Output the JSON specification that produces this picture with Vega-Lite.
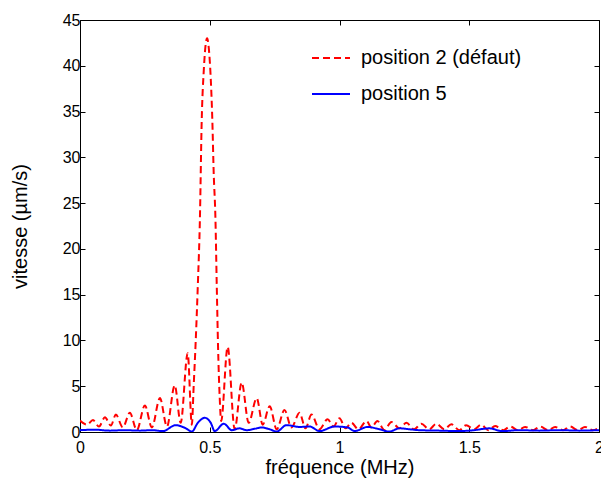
{
  "$schema": "https://vega.github.io/schema/vega-lite/v6.json",
  "width": 519,
  "height": 412,
  "autosize": {"type": "none"},
  "padding": {"left": 80, "top": 20, "right": 2, "bottom": 50},
  "background": "white",
  "config": {
    "font": "Liberation Sans",
    "view": {"stroke": "black", "strokeWidth": 1},
    "axis": {
      "grid": false,
      "domainColor": "black",
      "tickColor": "black",
      "labelColor": "black",
      "titleColor": "black",
      "labelFontSize": 16,
      "titleFontSize": 20,
      "titleFontWeight": "normal",
      "tickSize": -5,
      "labelFont": "Liberation Sans",
      "titleFont": "Liberation Sans"
    },
    "legend": {
      "orient": "none",
      "legendX": 231,
      "legendY": 18,
      "labelFontSize": 20,
      "labelFont": "Liberation Sans",
      "labelColor": "black",
      "labelLimit": 0,
      "symbolType": "stroke",
      "symbolSize": 1444,
      "symbolStrokeWidth": 2,
      "labelOffset": 10,
      "rowPadding": 6,
      "padding": 0
    }
  },
  "data": {
    "values": [
      {"f": 0.000, "v": 1.25, "s": "position 2 (défaut)"},
      {"f": 0.027, "v": 0.8, "s": "position 2 (défaut)"},
      {"f": 0.050, "v": 1.3, "s": "position 2 (défaut)"},
      {"f": 0.073, "v": 0.6, "s": "position 2 (défaut)"},
      {"f": 0.096, "v": 1.6, "s": "position 2 (défaut)"},
      {"f": 0.119, "v": 0.7, "s": "position 2 (défaut)"},
      {"f": 0.138, "v": 1.9, "s": "position 2 (défaut)"},
      {"f": 0.165, "v": 0.5, "s": "position 2 (défaut)"},
      {"f": 0.192, "v": 2.1, "s": "position 2 (défaut)"},
      {"f": 0.219, "v": 0.2, "s": "position 2 (défaut)"},
      {"f": 0.250, "v": 2.9, "s": "position 2 (défaut)"},
      {"f": 0.277, "v": 0.5, "s": "position 2 (défaut)"},
      {"f": 0.308, "v": 3.7, "s": "position 2 (défaut)"},
      {"f": 0.335, "v": 0.6, "s": "position 2 (défaut)"},
      {"f": 0.365, "v": 5.1, "s": "position 2 (défaut)"},
      {"f": 0.388, "v": 1.0, "s": "position 2 (défaut)"},
      {"f": 0.415, "v": 8.6, "s": "position 2 (défaut)"},
      {"f": 0.431, "v": 0.8, "s": "position 2 (défaut)"},
      {"f": 0.438, "v": 5, "s": "position 2 (défaut)"},
      {"f": 0.446, "v": 10, "s": "position 2 (défaut)"},
      {"f": 0.454, "v": 16, "s": "position 2 (défaut)"},
      {"f": 0.462, "v": 23.2, "s": "position 2 (défaut)"},
      {"f": 0.469, "v": 34, "s": "position 2 (défaut)"},
      {"f": 0.477, "v": 39.5, "s": "position 2 (défaut)"},
      {"f": 0.485, "v": 42.5, "s": "position 2 (défaut)"},
      {"f": 0.490, "v": 43, "s": "position 2 (défaut)"},
      {"f": 0.496, "v": 42, "s": "position 2 (défaut)"},
      {"f": 0.504, "v": 38.5, "s": "position 2 (défaut)"},
      {"f": 0.510, "v": 34, "s": "position 2 (défaut)"},
      {"f": 0.515, "v": 28.5, "s": "position 2 (défaut)"},
      {"f": 0.522, "v": 23.2, "s": "position 2 (défaut)"},
      {"f": 0.527, "v": 16, "s": "position 2 (défaut)"},
      {"f": 0.532, "v": 9.3, "s": "position 2 (défaut)"},
      {"f": 0.538, "v": 4, "s": "position 2 (défaut)"},
      {"f": 0.544, "v": 1.2, "s": "position 2 (défaut)"},
      {"f": 0.569, "v": 9.3, "s": "position 2 (défaut)"},
      {"f": 0.596, "v": 0.3, "s": "position 2 (défaut)"},
      {"f": 0.623, "v": 5.4, "s": "position 2 (défaut)"},
      {"f": 0.650, "v": 1.0, "s": "position 2 (défaut)"},
      {"f": 0.681, "v": 3.7, "s": "position 2 (défaut)"},
      {"f": 0.704, "v": 0.8, "s": "position 2 (défaut)"},
      {"f": 0.731, "v": 2.8, "s": "position 2 (défaut)"},
      {"f": 0.758, "v": 0.3, "s": "position 2 (défaut)"},
      {"f": 0.788, "v": 2.4, "s": "position 2 (défaut)"},
      {"f": 0.815, "v": 0.5, "s": "position 2 (défaut)"},
      {"f": 0.846, "v": 2.1, "s": "position 2 (défaut)"},
      {"f": 0.869, "v": 0.4, "s": "position 2 (défaut)"},
      {"f": 0.892, "v": 1.9, "s": "position 2 (défaut)"},
      {"f": 0.923, "v": 0.3, "s": "position 2 (défaut)"},
      {"f": 0.954, "v": 1.4, "s": "position 2 (défaut)"},
      {"f": 0.977, "v": 0.6, "s": "position 2 (défaut)"},
      {"f": 1.000, "v": 1.5, "s": "position 2 (défaut)"},
      {"f": 1.023, "v": 0.4, "s": "position 2 (défaut)"},
      {"f": 1.046, "v": 1.0, "s": "position 2 (défaut)"},
      {"f": 1.073, "v": 0.3, "s": "position 2 (défaut)"},
      {"f": 1.104, "v": 1.2, "s": "position 2 (défaut)"},
      {"f": 1.123, "v": 0.5, "s": "position 2 (défaut)"},
      {"f": 1.146, "v": 1.2, "s": "position 2 (défaut)"},
      {"f": 1.173, "v": 0.2, "s": "position 2 (défaut)"},
      {"f": 1.200, "v": 1.1, "s": "position 2 (défaut)"},
      {"f": 1.231, "v": 0.4, "s": "position 2 (défaut)"},
      {"f": 1.258, "v": 1.0, "s": "position 2 (défaut)"},
      {"f": 1.288, "v": 0.3, "s": "position 2 (défaut)"},
      {"f": 1.315, "v": 0.9, "s": "position 2 (défaut)"},
      {"f": 1.346, "v": 0.3, "s": "position 2 (défaut)"},
      {"f": 1.373, "v": 0.9, "s": "position 2 (défaut)"},
      {"f": 1.404, "v": 0.3, "s": "position 2 (défaut)"},
      {"f": 1.431, "v": 0.85, "s": "position 2 (défaut)"},
      {"f": 1.462, "v": 0.2, "s": "position 2 (défaut)"},
      {"f": 1.488, "v": 0.75, "s": "position 2 (défaut)"},
      {"f": 1.519, "v": 0.3, "s": "position 2 (défaut)"},
      {"f": 1.546, "v": 0.8, "s": "position 2 (défaut)"},
      {"f": 1.573, "v": 0.2, "s": "position 2 (défaut)"},
      {"f": 1.600, "v": 0.65, "s": "position 2 (défaut)"},
      {"f": 1.631, "v": 0.2, "s": "position 2 (défaut)"},
      {"f": 1.658, "v": 0.6, "s": "position 2 (défaut)"},
      {"f": 1.688, "v": 0.2, "s": "position 2 (défaut)"},
      {"f": 1.715, "v": 0.55, "s": "position 2 (défaut)"},
      {"f": 1.746, "v": 0.2, "s": "position 2 (défaut)"},
      {"f": 1.773, "v": 0.6, "s": "position 2 (défaut)"},
      {"f": 1.804, "v": 0.2, "s": "position 2 (défaut)"},
      {"f": 1.831, "v": 0.55, "s": "position 2 (défaut)"},
      {"f": 1.862, "v": 0.2, "s": "position 2 (défaut)"},
      {"f": 1.888, "v": 0.6, "s": "position 2 (défaut)"},
      {"f": 1.919, "v": 0.2, "s": "position 2 (défaut)"},
      {"f": 1.946, "v": 0.55, "s": "position 2 (défaut)"},
      {"f": 1.977, "v": 0.2, "s": "position 2 (défaut)"},
      {"f": 2.000, "v": 0.5, "s": "position 2 (défaut)"},
      {"f": 0.000, "v": 0.2, "s": "position 5"},
      {"f": 0.058, "v": 0.25, "s": "position 5"},
      {"f": 0.115, "v": 0.15, "s": "position 5"},
      {"f": 0.173, "v": 0.2, "s": "position 5"},
      {"f": 0.231, "v": 0.15, "s": "position 5"},
      {"f": 0.277, "v": 0.2, "s": "position 5"},
      {"f": 0.319, "v": 0.1, "s": "position 5"},
      {"f": 0.369, "v": 0.75, "s": "position 5"},
      {"f": 0.408, "v": 0.4, "s": "position 5"},
      {"f": 0.431, "v": 0.05, "s": "position 5"},
      {"f": 0.454, "v": 1.0, "s": "position 5"},
      {"f": 0.481, "v": 1.55, "s": "position 5"},
      {"f": 0.504, "v": 1.0, "s": "position 5"},
      {"f": 0.519, "v": 0.1, "s": "position 5"},
      {"f": 0.554, "v": 0.9, "s": "position 5"},
      {"f": 0.585, "v": 0.2, "s": "position 5"},
      {"f": 0.615, "v": 0.4, "s": "position 5"},
      {"f": 0.642, "v": 0.2, "s": "position 5"},
      {"f": 0.673, "v": 0.35, "s": "position 5"},
      {"f": 0.700, "v": 0.5, "s": "position 5"},
      {"f": 0.731, "v": 0.3, "s": "position 5"},
      {"f": 0.758, "v": 0.05, "s": "position 5"},
      {"f": 0.796, "v": 0.75, "s": "position 5"},
      {"f": 0.846, "v": 0.55, "s": "position 5"},
      {"f": 0.885, "v": 0.6, "s": "position 5"},
      {"f": 0.923, "v": 0.1, "s": "position 5"},
      {"f": 0.981, "v": 0.6, "s": "position 5"},
      {"f": 1.031, "v": 0.5, "s": "position 5"},
      {"f": 1.058, "v": 0.1, "s": "position 5"},
      {"f": 1.108, "v": 0.55, "s": "position 5"},
      {"f": 1.154, "v": 0.3, "s": "position 5"},
      {"f": 1.192, "v": 0.05, "s": "position 5"},
      {"f": 1.231, "v": 0.4, "s": "position 5"},
      {"f": 1.269, "v": 0.3, "s": "position 5"},
      {"f": 1.308, "v": 0.2, "s": "position 5"},
      {"f": 1.385, "v": 0.15, "s": "position 5"},
      {"f": 1.462, "v": 0.1, "s": "position 5"},
      {"f": 1.519, "v": 0.2, "s": "position 5"},
      {"f": 1.577, "v": 0.4, "s": "position 5"},
      {"f": 1.627, "v": 0.1, "s": "position 5"},
      {"f": 1.692, "v": 0.2, "s": "position 5"},
      {"f": 1.769, "v": 0.15, "s": "position 5"},
      {"f": 1.846, "v": 0.2, "s": "position 5"},
      {"f": 1.923, "v": 0.15, "s": "position 5"},
      {"f": 2.000, "v": 0.2, "s": "position 5"}
    ]
  },
  "resolve": {"axis": {"x": "independent", "y": "independent"}},
  "layer": [
    {
      "mark": {"type": "line", "strokeWidth": 2, "interpolate": "monotone", "clip": true},
      "encoding": {
        "x": {
          "field": "f", "type": "quantitative",
          "scale": {"domain": [0, 2], "nice": false, "zero": false},
          "axis": {"title": "fréquence (MHz)", "values": [0, 0.5, 1, 1.5, 2], "format": "~g", "labelPadding": 12, "titlePadding": 2, "labelFlush": false}
        },
        "y": {
          "field": "v", "type": "quantitative",
          "scale": {"domain": [0, 45], "nice": false},
          "axis": {"title": "vitesse (µm/s)", "values": [0, 5, 10, 15, 20, 25, 30, 35, 40, 45], "labelPadding": 5, "titlePadding": 32}
        },
        "color": {
          "field": "s", "type": "nominal",
          "scale": {"domain": ["position 2 (défaut)", "position 5"], "range": ["#ff0000", "#0000ff"]},
          "legend": {"title": null}
        },
        "strokeDash": {
          "field": "s", "type": "nominal",
          "scale": {"domain": ["position 2 (défaut)", "position 5"], "range": [[7, 4], [1, 0]]},
          "legend": {"title": null}
        }
      }
    },
    {
      "mark": {"type": "line", "opacity": 0},
      "encoding": {
        "x": {
          "field": "f", "type": "quantitative",
          "axis": {"orient": "top", "title": null, "labels": false, "domain": false, "values": [0, 0.5, 1, 1.5, 2]}
        },
        "y": {
          "field": "v", "type": "quantitative",
          "axis": {"orient": "right", "title": null, "labels": false, "domain": false, "values": [0, 5, 10, 15, 20, 25, 30, 35, 40, 45]}
        }
      }
    }
  ]
}
